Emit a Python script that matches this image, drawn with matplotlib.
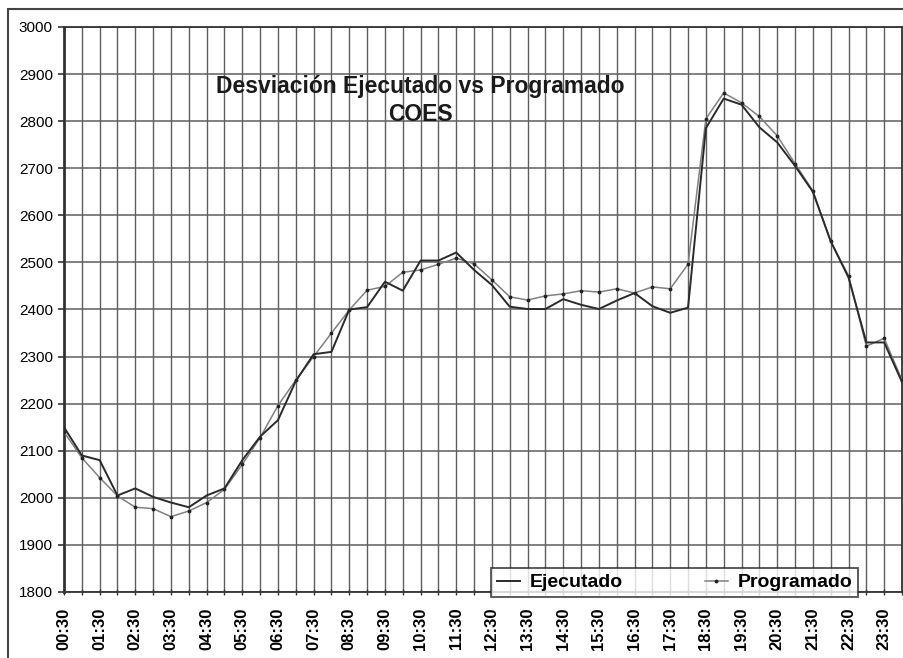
import matplotlib
matplotlib.use("Agg")
import matplotlib.pyplot as plt
from matplotlib.patches import Rectangle

# half-hour steps from 00:30 to 24:00
horas = ["%02d:%02d" % divmod(30 * (k + 1), 60) for k in range(48)]
etiquetas = horas[::2]

ejecutado = [2150, 2090, 2080, 2005, 2020, 2002, 1990, 1980, 2005, 2020,
             2080, 2130, 2165, 2248, 2305, 2310, 2400, 2405, 2459, 2440,
             2504, 2504, 2521, 2484, 2452, 2406, 2401, 2401, 2422, 2410,
             2401, 2419, 2435, 2407, 2393, 2404, 2785, 2848, 2835, 2787,
             2755, 2705, 2650, 2545, 2468, 2330, 2330, 2246]

programado = [2140, 2085, 2043, 2004, 1980, 1977, 1960, 1972, 1990, 2018,
              2071, 2128, 2196, 2250, 2300, 2350, 2399, 2441, 2449, 2479,
              2484, 2496, 2509, 2497, 2463, 2427, 2420, 2429, 2433, 2440,
              2437, 2444, 2435, 2448, 2444, 2496, 2805, 2860, 2839, 2810,
              2769, 2710, 2652, 2545, 2472, 2322, 2339, 2250]

fuente = ["Liberation Sans", "DejaVu Sans"]
plt.rcParams["font.family"] = fuente

fig = plt.figure(figsize=(9.04, 6.58), dpi=100)
ax = fig.add_axes([64 / 904, 1 - 592 / 658, (902 - 64) / 904, (592 - 27) / 658])

x = list(range(len(horas)))
ax.plot(x, ejecutado, color="#2a2a2a", lw=1.4, label="Ejecutado", zorder=4)
ax.plot(x, programado, color="#808080", lw=1.1, marker=".", ms=3.5,
        mfc="#222222", mec="#222222", label="Programado", zorder=3)

ax.set_xlim(0, 47)
ax.set_ylim(1800, 3000)
ax.set_yticks(range(1800, 3001, 100))
ax.set_xticks(x, minor=True)
ax.set_xticks(x[::2])
ax.set_xticklabels(etiquetas, rotation=90, fontsize=12, fontweight="bold")
for t in ax.get_yticklabels():
    t.set_fontsize(11)

ax.grid(True, which="both", axis="x", color="#5e5e5e", lw=1.0)
ax.grid(True, which="major", axis="y", color="#5e5e5e", lw=1.1)
ax.tick_params(axis="y", length=4, width=1.2, color="#333333", pad=4)
ax.tick_params(axis="x", which="both", length=4, width=1.0, color="#333333",
               direction="inout", pad=9)
for s in ax.spines.values():
    s.set_color("#333333")
    s.set_linewidth(1.3)
ax.spines["left"].set_linewidth(2)

ax.text(0.425, 0.895, "Desviación Ejecutado vs Programado", transform=ax.transAxes,
        ha="center", va="center", fontsize=16.5, fontweight="bold", color="#1a1a1a")
ax.text(0.425, 0.845, "COES", transform=ax.transAxes,
        ha="center", va="center", fontsize=16.5, fontweight="bold", color="#1a1a1a")

leg = fig.legend(loc="center", bbox_to_anchor=((487 + 862) / 2 / 904, 1 - (567 + 598) / 2 / 658),
                 ncol=2, frameon=True, fancybox=False, handlelength=1.2,
                 columnspacing=4.2, borderpad=0.3, handletextpad=0.5,
                 prop={"weight": "bold", "size": 14})
leg.get_frame().set_edgecolor("#222222")
leg.get_frame().set_linewidth(1.3)
leg.set_zorder(10)

# outer chart border
fig.patches.append(Rectangle((8 / 904, -0.02), 1.0, 1 - 9 / 658 + 0.02, transform=fig.transFigure,
                             fill=False, edgecolor="#444444", lw=1.5, zorder=0))

fig.savefig("out.png", dpi=100, facecolor="white")
